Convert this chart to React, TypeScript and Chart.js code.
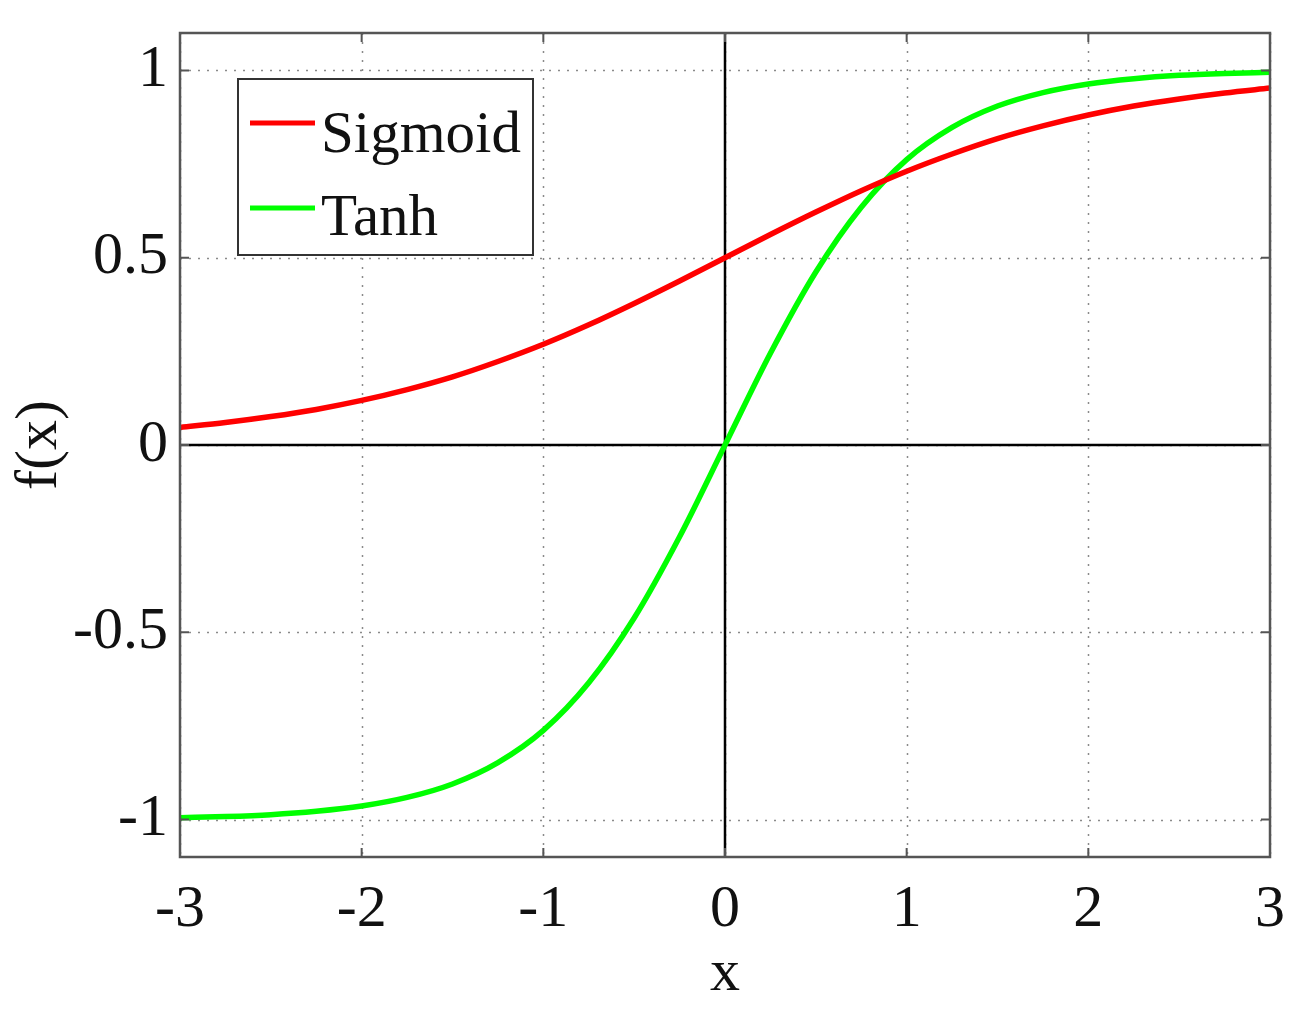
import React, { useEffect, useRef } from "react";
import { Chart, registerables } from "chart.js";

Chart.register(...registerables);

// x positions at which the curves were read
const xValues = [
  -3, -2.75, -2.5, -2.25, -2, -1.75, -1.5, -1.25, -1, -0.75, -0.5, -0.25, 0,
  0.25, 0.5, 0.75, 1, 1.25, 1.5, 1.75, 2, 2.25, 2.5, 2.75, 3,
];
const sigmoidValues = [
  0.047, 0.06, 0.076, 0.095, 0.119, 0.148, 0.182, 0.223, 0.269, 0.321, 0.378,
  0.438, 0.5, 0.562, 0.622, 0.679, 0.731, 0.777, 0.818, 0.852, 0.881, 0.905,
  0.924, 0.94, 0.953,
];
const tanhValues = [
  -0.995, -0.992, -0.987, -0.978, -0.964, -0.941, -0.905, -0.848, -0.762,
  -0.635, -0.462, -0.245, 0, 0.245, 0.462, 0.635, 0.762, 0.848, 0.905, 0.941,
  0.964, 0.978, 0.987, 0.992, 0.995,
];
const xTicks = [-3, -2, -1, 0, 1, 2, 3];
const yTicks = [-1, -0.5, 0, 0.5, 1];
const seriesNames = ["Sigmoid", "Tanh"];
const seriesColors = ["#ff0000", "#00ff00"];

const FONT = "'Liberation Serif', 'Times New Roman', serif";

const decorPlugin = {
  id: "decor",
  beforeDatasetsDraw(chart: any) {
    const { ctx, chartArea: a, scales } = chart;
    const xs = scales.x;
    const ys = scales.y;
    ctx.save();
    // dotted grid
    ctx.strokeStyle = "#8a8a8a";
    ctx.lineWidth = 1.5;
    ctx.setLineDash([2, 7]);
    xTicks.forEach((v) => {
      const px = Math.round(xs.getPixelForValue(v)) + 0.5;
      ctx.beginPath();
      ctx.moveTo(px, a.top);
      ctx.lineTo(px, a.bottom);
      ctx.stroke();
    });
    yTicks.forEach((v) => {
      const py = Math.round(ys.getPixelForValue(v)) + 0.5;
      ctx.beginPath();
      ctx.moveTo(a.left, py);
      ctx.lineTo(a.right, py);
      ctx.stroke();
    });
    ctx.setLineDash([]);
    // zero axes
    ctx.strokeStyle = "#000";
    ctx.lineWidth = 2.5;
    const x0 = xs.getPixelForValue(0);
    const y0 = ys.getPixelForValue(0);
    ctx.beginPath();
    ctx.moveTo(a.left, y0);
    ctx.lineTo(a.right, y0);
    ctx.moveTo(x0, a.top);
    ctx.lineTo(x0, a.bottom);
    ctx.stroke();
    ctx.restore();
  },
  afterDatasetsDraw(chart: any) {
    const { ctx, chartArea: a, scales } = chart;
    const xs = scales.x;
    const ys = scales.y;
    ctx.save();
    // box
    ctx.strokeStyle = "#555";
    ctx.lineWidth = 2.5;
    ctx.strokeRect(a.left, a.top, a.right - a.left, a.bottom - a.top);
    // inward ticks
    const tl = 9;
    ctx.beginPath();
    xTicks.forEach((v) => {
      const px = xs.getPixelForValue(v);
      ctx.moveTo(px, a.bottom);
      ctx.lineTo(px, a.bottom - tl);
      ctx.moveTo(px, a.top);
      ctx.lineTo(px, a.top + tl);
    });
    yTicks.forEach((v) => {
      const py = ys.getPixelForValue(v);
      ctx.moveTo(a.left, py);
      ctx.lineTo(a.left + tl, py);
      ctx.moveTo(a.right, py);
      ctx.lineTo(a.right - tl, py);
    });
    ctx.lineWidth = 2;
    ctx.stroke();

    // legend
    const bx = 238, by = 79, bw = 295, bh = 176;
    ctx.fillStyle = "#fff";
    ctx.fillRect(bx, by, bw, bh);
    ctx.strokeStyle = "#333";
    ctx.lineWidth = 2;
    ctx.strokeRect(bx, by, bw, bh);
    const lineYs = [123, 208];
    const baseYs = [152, 235];
    ctx.font = `59px ${FONT}`;
    ctx.textBaseline = "alphabetic";
    ctx.textAlign = "left";
    seriesNames.forEach((name, i) => {
      ctx.strokeStyle = seriesColors[i];
      ctx.lineWidth = 5;
      ctx.beginPath();
      ctx.moveTo(250, lineYs[i]);
      ctx.lineTo(315, lineYs[i]);
      ctx.stroke();
      ctx.fillStyle = "#111";
      ctx.fillText(name, 321, baseYs[i]);
    });
    ctx.restore();
  },
};

export default function App() {
  const ref = useRef<HTMLCanvasElement | null>(null);
  useEffect(() => {
    if (!ref.current) return;
    const mk = (vals: number[]) => xValues.map((x, i) => ({ x, y: vals[i] }));
    const chart = new Chart(ref.current, {
      type: "line",
      data: {
        datasets: [
          {
            label: seriesNames[0],
            data: mk(sigmoidValues),
            borderColor: seriesColors[0],
            borderWidth: 5.5,
            pointRadius: 0,
            cubicInterpolationMode: "monotone",
          },
          {
            label: seriesNames[1],
            data: mk(tanhValues),
            borderColor: seriesColors[1],
            borderWidth: 5.5,
            pointRadius: 0,
            cubicInterpolationMode: "monotone",
          },
        ],
      },
      options: {
        responsive: false,
        animation: false,
        layout: { padding: { left: 0, right: 36, top: 33, bottom: 0 } },
        plugins: { legend: { display: false }, tooltip: { enabled: false } },
        scales: {
          x: {
            type: "linear",
            min: -3,
            max: 3,
            afterBuildTicks: (s: any) => {
              s.ticks = xTicks.map((v) => ({ value: v }));
            },
            afterFit: (s: any) => {
              s.height = 153;
              s.paddingLeft = 0;
              s.paddingRight = 0;
            },
            grid: { display: false, drawTicks: false },
            border: { display: false },
            ticks: {
              padding: 17,
              color: "#111",
              font: { family: FONT, size: 60 },
              callback: (v: any) => String(v),
            },
            title: {
              display: true,
              text: "x",
              color: "#111",
              padding: { top: 0, bottom: 0 },
              font: { family: FONT, size: 60 },
            },
          },
          y: {
            type: "linear",
            min: -1.1,
            max: 1.1,
            afterBuildTicks: (s: any) => {
              s.ticks = yTicks.map((v) => ({ value: v }));
            },
            afterFit: (s: any) => {
              s.width = 180;
              s.paddingTop = 0;
              s.paddingBottom = 0;
            },
            grid: { display: false, drawTicks: false },
            border: { display: false },
            ticks: {
              padding: 12,
              color: "#111",
              font: { family: FONT, size: 60 },
              callback: (v: any) => String(v),
            },
            title: {
              display: true,
              text: "f(x)",
              color: "#111",
              padding: { top: 4, bottom: 4 },
              font: { family: FONT, size: 60 },
            },
          },
        },
      },
      plugins: [decorPlugin],
    } as any);
    return () => chart.destroy();
  }, []);
  return (
    <div style={{ position: "absolute", left: 0, top: 0, width: 1306, height: 1010, background: "#fff" }}>
      <canvas ref={ref} width={1306} height={1010} />
    </div>
  );
}
